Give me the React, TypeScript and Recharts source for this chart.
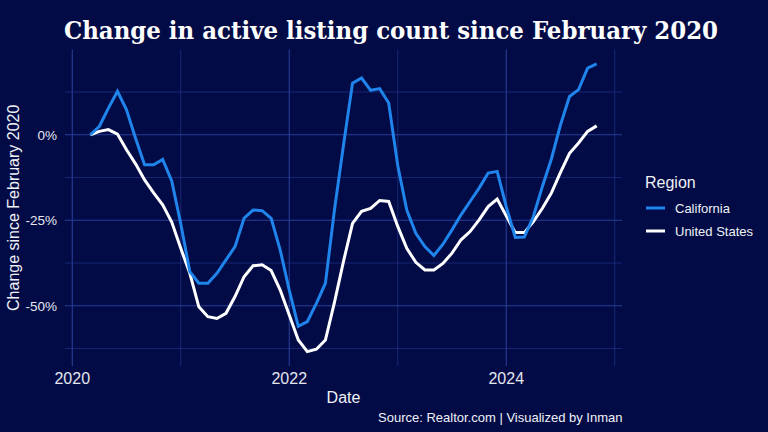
import React from "react";
import { LineChart, Line, XAxis, YAxis, CartesianGrid } from "recharts";

// Months from March 2020 to November 2024
const months: string[] = [
  "2020-03","2020-04","2020-05","2020-06","2020-07","2020-08","2020-09","2020-10","2020-11","2020-12",
  "2021-01","2021-02","2021-03","2021-04","2021-05","2021-06","2021-07","2021-08","2021-09","2021-10","2021-11","2021-12",
  "2022-01","2022-02","2022-03","2022-04","2022-05","2022-06","2022-07","2022-08","2022-09","2022-10","2022-11","2022-12",
  "2023-01","2023-02","2023-03","2023-04","2023-05","2023-06","2023-07","2023-08","2023-09","2023-10","2023-11","2023-12",
  "2024-01","2024-02","2024-03","2024-04","2024-05","2024-06","2024-07","2024-08","2024-09","2024-10","2024-11",
];

// Change since February 2020, percent
const california: number[] = [
  0, 2.5, 7.8, 12.7, 7.3, -1, -8.8, -8.8, -7.2, -13.5,
  -26, -40, -43.4, -43.4, -40.5, -36.6, -32.7, -24.4, -22, -22.2, -24.4, -33.7,
  -45.4, -56, -54.6, -49.3, -43.4, -22, -3, 15.1, 16.6, 13, 13.5, 9.3,
  -9, -22, -28.8, -32.7, -35.3, -32, -27.8, -23.4, -19.5, -15.6, -11.2, -10.7,
  -21, -30, -29.9, -23.9, -15.1, -7, 2.9, 11.2, 13.2, 19.5, 20.7,
];

const unitedStates: number[] = [
  0, 1.0, 1.5, 0.2, -4.4, -8.5, -13.2, -17, -20.5, -25.5,
  -33.2, -40.5, -50.3, -53.2, -53.7, -52.2, -47.3, -41.5, -38.3, -38, -39.7, -45.4,
  -52.7, -60, -63.4, -62.7, -60, -49, -37, -25.9, -22.4, -21.5, -19.2, -19.5,
  -26.8, -33.2, -37.3, -39.5, -39.5, -37.6, -34.6, -30.7, -28.3, -24.9, -21, -18.8,
  -23.7, -28.6, -28.6, -25.4, -21.5, -17, -11, -5.4, -2.4, 1.0, 2.6,
];

const xTicks: number[] = [2020, 2022, 2024];
const xMinor: number[] = [2021, 2023, 2025];
const yTicks: number[] = [0, -25, -50];
const yMinor: number[] = [12.5, -12.5, -37.5, -62.5];

const seriesNames = { ca: "California", us: "United States" };

const toYear = (m: string) => {
  const [y, mo] = m.split("-").map(Number);
  return y + (mo - 1) / 12;
};

const data = months.map((m, i) => ({
  t: toYear(m),
  ca: california[i],
  us: unitedStates[i],
}));

const BG = "#020b45";
const BLUE = "#1f84ec";
const FONT = "'Liberation Sans', Arial, sans-serif";

export default function App() {
  return (
    <div style={{ position: "relative", width: 768, height: 432, background: BG, overflow: "hidden" }}>
      <style>{`body{margin:0;background:${BG};}`}</style>
      <LineChart
        width={768}
        height={432}
        data={data}
        margin={{ top: 49.6, right: 146, bottom: 0, left: 0 }}
      >
        <CartesianGrid
          horizontalValues={yMinor}
          verticalValues={xMinor}
          stroke="#22338a"
          strokeWidth={0.7}
        />
        <CartesianGrid
          horizontalValues={yTicks}
          verticalValues={xTicks}
          stroke="#2a3c96"
          strokeWidth={1.1}
        />
        <XAxis
          type="number"
          dataKey="t"
          domain={[2019.933, 2025.067]}
          ticks={xTicks}
          allowDataOverflow
          height={66}
          axisLine={false}
          tickLine={false}
          tickMargin={1}
          tickFormatter={(v: number) => String(v)}
          tick={{ fill: "#e4e6f0", fontSize: 16, fontFamily: FONT }}
        />
        <YAxis
          type="number"
          domain={[-67.6, 24.9]}
          ticks={yTicks}
          allowDataOverflow
          width={65}
          axisLine={false}
          tickLine={false}
          tickFormatter={(v: number) => `${v}%`}
          tick={{ fill: "#e4e6f0", fontSize: 13.5, fontFamily: FONT }}
        />
        <Line
          type="linear"
          dataKey="us"
          name={seriesNames.us}
          stroke="#ffffff"
          strokeWidth={3}
          dot={false}
          isAnimationActive={false}
        />
        <Line
          type="linear"
          dataKey="ca"
          name={seriesNames.ca}
          stroke={BLUE}
          strokeWidth={3}
          dot={false}
          isAnimationActive={false}
        />
      </LineChart>
      <svg
        width={768}
        height={432}
        style={{ position: "absolute", left: 0, top: 0, pointerEvents: "none" }}
      >
        <text
          x={64}
          y={38.5}
          fill="#ffffff"
          fontFamily="'DejaVu Serif', serif"
          fontWeight="bold"
          fontSize={23.4}
          textLength={654}
          lengthAdjust="spacingAndGlyphs"
        >
          Change in active listing count since February 2020
        </text>
        <text
          x={343.5}
          y={402.5}
          fill="#f0f1f7"
          fontFamily={FONT}
          fontSize={16}
          textAnchor="middle"
        >
          Date
        </text>
        <text
          x={0}
          y={0}
          transform="translate(19,207.8) rotate(-90)"
          fill="#f0f1f7"
          fontFamily={FONT}
          fontSize={16}
          textAnchor="middle"
        >
          Change since February 2020
        </text>
        <text
          x={622.5}
          y={422}
          fill="#f0f1f7"
          fontFamily={FONT}
          fontSize={13}
          textAnchor="end"
        >
          Source: Realtor.com | Visualized by Inman
        </text>
        <text x={645} y={188} fill="#f0f1f7" fontFamily={FONT} fontSize={16}>
          Region
        </text>
        <line x1={646} x2={665} y1={208} y2={208} stroke={BLUE} strokeWidth={3} />
        <text x={675} y={212.6} fill="#f0f1f7" fontFamily={FONT} fontSize={13}>
          {seriesNames.ca}
        </text>
        <line x1={646} x2={665} y1={231} y2={231} stroke="#ffffff" strokeWidth={3} />
        <text x={675} y={235.6} fill="#f0f1f7" fontFamily={FONT} fontSize={13}>
          {seriesNames.us}
        </text>
      </svg>
    </div>
  );
}
